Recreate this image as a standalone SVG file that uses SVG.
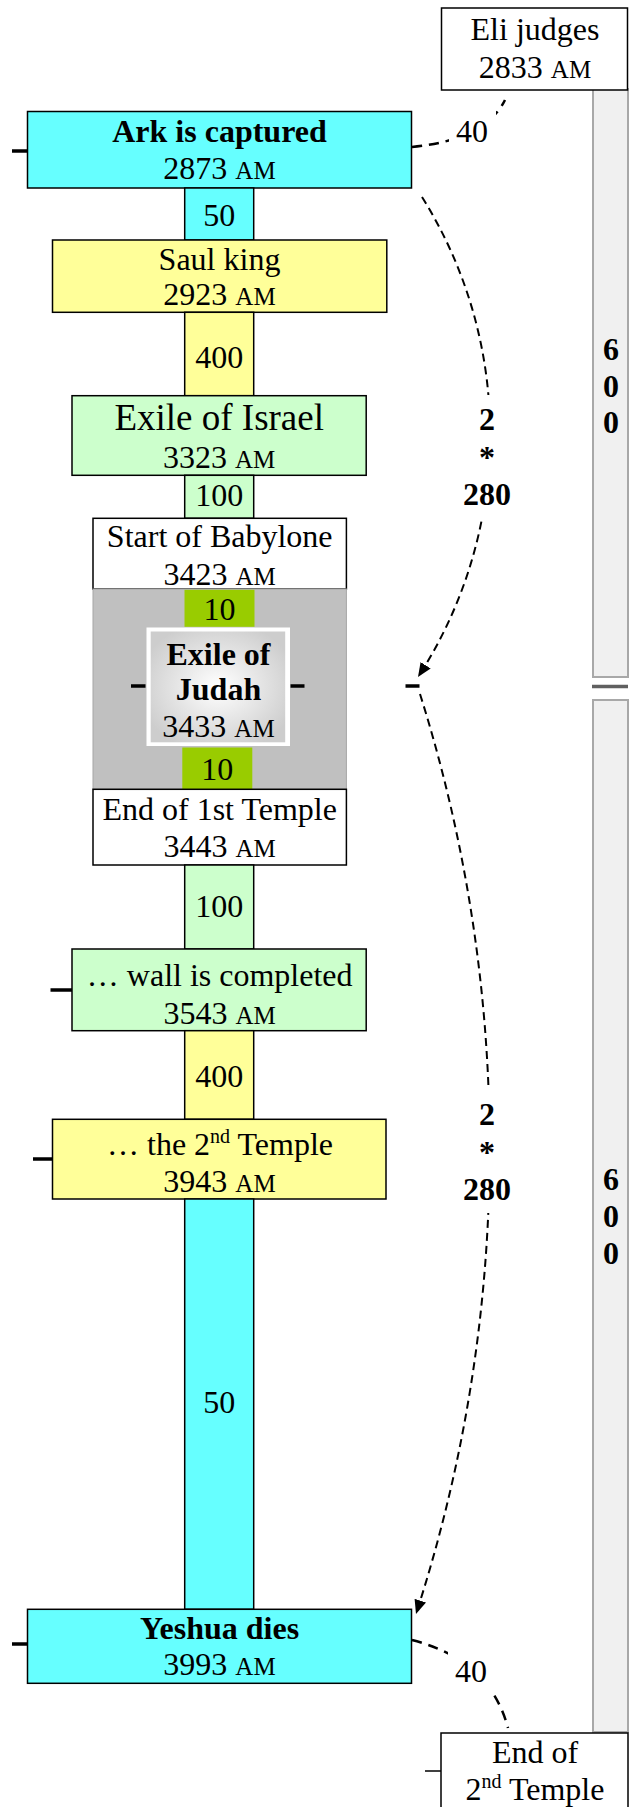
<svg xmlns="http://www.w3.org/2000/svg" width="631" height="1807" viewBox="0 0 631 1807">
<style>
text{font-family:"Liberation Serif","Times New Roman",serif;font-size:32px;fill:#000;text-anchor:middle}
.b{font-weight:bold}
.sc{font-size:25px}
.box{stroke:#000;stroke-width:1.5}
.cy{fill:#66ffff}.ye{fill:#ffff99}.lg{fill:#ccffcc}.wh{fill:#fff}.gr{fill:#99cc00}
.tick{stroke:#000;stroke-width:3.5}
.bar{fill:#f0f0f0;stroke:#a8a8a8;stroke-width:2}
.dash{fill:none;stroke:#000;stroke-width:2;stroke-dasharray:8 5}
.dash40{fill:none;stroke:#000;stroke-width:2.5;stroke-dasharray:10 7}
.bg{fill:#fff}
</style>
<defs>
<marker id="ah" markerWidth="14" markerHeight="12" refX="14" refY="6" orient="auto" markerUnits="userSpaceOnUse" viewBox="0 0 14 12">
<path d="M0,0 L14,6 L0,12 z" fill="#000"/>
</marker>
<radialGradient id="jg" cx="0.5" cy="0.5" r="0.6">
<stop offset="0" stop-color="#ffffff"/><stop offset="1" stop-color="#cdcdcd"/>
</radialGradient>
</defs>

<g id="bar600a">
<rect class="bar" x="593" y="89" width="35" height="588"/>
<text class="b" x="611" y="360">6</text>
<text class="b" x="611" y="396.7">0</text>
<text class="b" x="611" y="433">0</text>
</g>
<line x1="592" y1="686.5" x2="628" y2="686.5" stroke="#606060" stroke-width="3.5"/>
<g id="bar600b">
<rect class="bar" x="593" y="700" width="35" height="1032"/>
<text class="b" x="611" y="1190">6</text>
<text class="b" x="611" y="1227.3">0</text>
<text class="b" x="611" y="1264">0</text>
</g>

<g id="eli">
<rect class="box wh" x="441.5" y="8" width="186" height="82"/>
<text x="535" y="39.5">Eli judges</text>
<text x="535" y="78">2833 <tspan class="sc">AM</tspan></text>
</g>

<g id="ark">
<line class="tick" x1="12" y1="151" x2="27.5" y2="151"/>
<rect class="box cy" x="27.5" y="111.5" width="384" height="76.5"/>
<text class="b" x="219.5" y="141.5">Ark is captured</text>
<text x="219.5" y="178.5">2873 <tspan class="sc">AM</tspan></text>
</g>

<g id="col50a">
<rect class="box cy" x="184.7" y="188" width="69" height="52"/>
<text x="219.2" y="226">50</text>
</g>

<g id="saul">
<rect class="box ye" x="52.5" y="240" width="334.3" height="72.3"/>
<text x="219.5" y="270">Saul king</text>
<text x="219.5" y="304.5">2923 <tspan class="sc">AM</tspan></text>
</g>

<g id="col400a">
<rect class="box ye" x="184.7" y="312.3" width="69" height="83.4"/>
<text x="219.2" y="368">400</text>
</g>

<g id="israel">
<rect class="box lg" x="72" y="395.7" width="294.2" height="79.6"/>
<text x="219.2" y="430" style="font-size:37px">Exile of Israel</text>
<text x="219.2" y="468">3323 <tspan class="sc">AM</tspan></text>
</g>

<g id="col100a">
<rect class="box lg" x="184.7" y="475.3" width="69" height="43"/>
<text x="219.2" y="506">100</text>
</g>

<g id="babylone">
<rect class="box wh" x="93" y="518.3" width="253.4" height="70.7"/>
<text x="219.7" y="547">Start of Babylone</text>
<text x="219.7" y="584.5">3423 <tspan class="sc">AM</tspan></text>
</g>

<g id="judahzone">
<rect x="93" y="589" width="253.4" height="200.3" fill="#c0c0c0" stroke="#a6a6a6" stroke-width="1"/>
</g>

<g id="col10a">
<rect class="gr" x="184.5" y="589.8" width="70" height="37"/>
<text x="219.5" y="619.5">10</text>
</g>

<g id="judah">
<line class="tick" x1="131" y1="686" x2="145.5" y2="686"/>
<line class="tick" x1="290.5" y1="686" x2="304.5" y2="686"/>
<rect x="146.5" y="627.5" width="143.5" height="118.5" fill="#fff"/>
<rect x="150.7" y="631.5" width="134.5" height="110.8" fill="url(#jg)"/>
<text class="b" x="218.5" y="665">Exile of</text>
<text class="b" x="218.5" y="700">Judah</text>
<text x="218.5" y="736.5">3433 <tspan class="sc">AM</tspan></text>
</g>

<g id="col10b">
<rect class="gr" x="182.3" y="747.5" width="70" height="41.5"/>
<text x="217.3" y="780">10</text>
</g>

<g id="temple1">
<rect class="box wh" x="93" y="789.3" width="253.4" height="75.7"/>
<text x="219.7" y="820">End of 1st Temple</text>
<text x="219.7" y="857">3443 <tspan class="sc">AM</tspan></text>
</g>

<g id="col100b">
<rect class="box lg" x="184.7" y="865" width="69" height="84"/>
<text x="219.2" y="917">100</text>
</g>

<g id="wall">
<line class="tick" x1="50.5" y1="990" x2="72" y2="990"/>
<rect class="box lg" x="72" y="949" width="294.2" height="81.7"/>
<text x="219.7" y="986">… wall is completed</text>
<text x="219.7" y="1023.5">3543 <tspan class="sc">AM</tspan></text>
</g>

<g id="col400b">
<rect class="box ye" x="184.7" y="1030.7" width="69" height="88.6"/>
<text x="219.2" y="1087">400</text>
</g>

<g id="temple2">
<line class="tick" x1="33" y1="1159" x2="52.5" y2="1159"/>
<rect class="box ye" x="52.5" y="1119.3" width="333.5" height="79.7"/>
<text x="220" y="1154.5">… the 2<tspan style="font-size:20px" dy="-12">nd</tspan><tspan dy="12"> Temple</tspan></text>
<text x="219.5" y="1191.7">3943 <tspan class="sc">AM</tspan></text>
</g>

<g id="col50b">
<rect class="box cy" x="184.7" y="1199" width="69" height="410.3"/>
<text x="219.2" y="1413">50</text>
</g>

<g id="yeshua">
<line class="tick" x1="12" y1="1644" x2="27.5" y2="1644"/>
<rect class="box cy" x="27.5" y="1609.3" width="384" height="74"/>
<text class="b" x="219.5" y="1638.5">Yeshua dies</text>
<text x="219.5" y="1675">3993 <tspan class="sc">AM</tspan></text>
</g>

<g id="end2">
<line x1="425" y1="1771" x2="441" y2="1771" stroke="#000" stroke-width="1.5"/>
<rect class="box wh" x="441" y="1733" width="187" height="100"/>
<text x="535" y="1763">End of</text>
<text x="535" y="1800">2<tspan style="font-size:20px" dy="-12">nd</tspan><tspan dy="12"> Temple</tspan></text>
</g>

<g id="connectors">
<path class="dash40" d="M412,147 Q485,140 505,100"/>
<rect class="bg" x="449" y="110" width="47" height="38"/>
<text x="472" y="142">40</text>

<path class="dash" d="M422,197 A446,446 0 0 1 418,677" marker-end="url(#ah)"/>
<rect class="bg" x="466" y="395" width="44" height="124"/>
<text class="b" x="487" y="430">2</text>
<text class="b" x="487" y="467.5">*</text>
<text class="b" x="487" y="505">280</text>

<line class="tick" x1="405.5" y1="686" x2="419.5" y2="686"/>

<path class="dash" d="M420,694 A1512,1512 0 0 1 416,1614" marker-end="url(#ah)"/>
<rect class="bg" x="466" y="1090" width="44" height="123"/>
<text class="b" x="487" y="1125">2</text>
<text class="b" x="487" y="1162.5">*</text>
<text class="b" x="487" y="1200">280</text>

<path class="dash40" d="M412,1640 Q490,1660 508,1728"/>
<rect class="bg" x="448" y="1650" width="46" height="42"/>
<text x="471" y="1682">40</text>
</g>
</svg>
